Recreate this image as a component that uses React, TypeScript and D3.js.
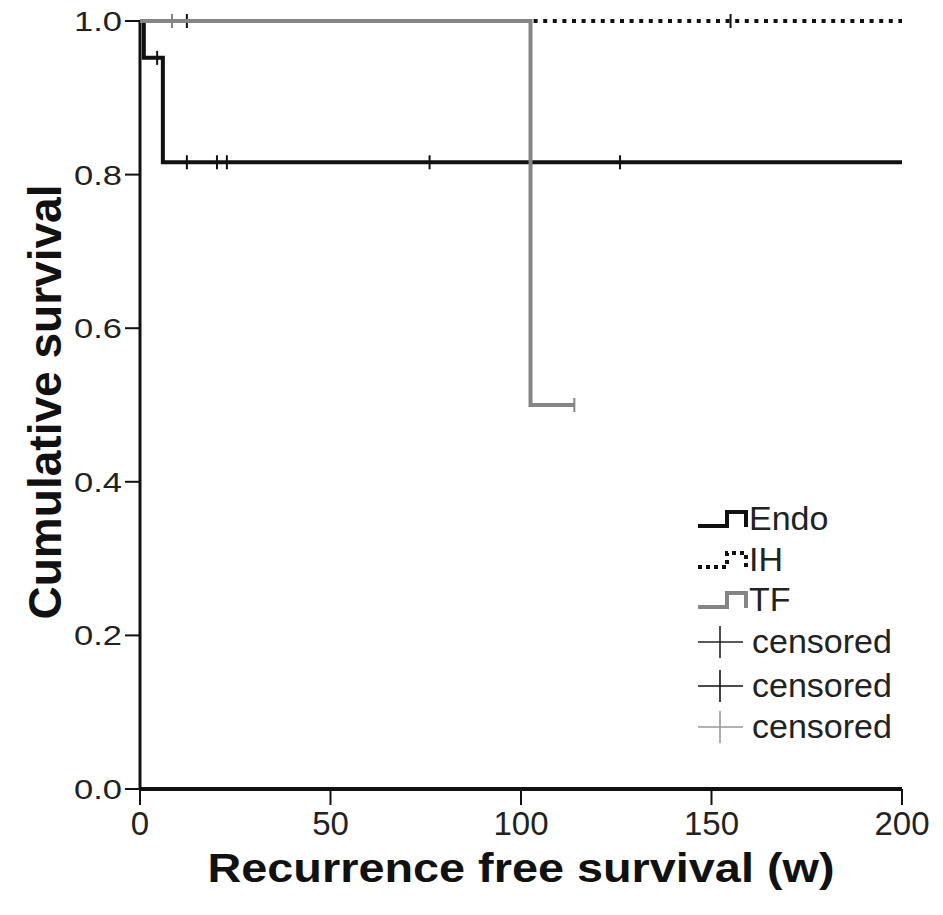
import React from 'react';
import * as d3 from 'd3';

// Kaplan-Meier steps (weeks, survival)
const endoTimes = [0, 1, 6, 200];
const endoSurv = [1, 0.952, 0.816, 0.816];
const endoCensored = [4.5, 12.3, 20.2, 22.8, 76, 126];

const ihTimes = [0, 200];
const ihSurv = [1, 1];
const ihCensored = [12.3, 155];

const tfTimes = [0, 102.5, 114];
const tfSurv = [1, 0.5, 0.5];
const tfCensored = [8.4, 114];

const xTicks = [0, 50, 100, 150, 200];
const yTicks = [0, 0.2, 0.4, 0.6, 0.8, 1.0];

const legendLabels = ['Endo', 'IH', 'TF', 'censored', 'censored', 'censored'];

const W = 943;
const H = 915;

const App = () => {
  const x = d3.scaleLinear().domain([0, 200]).range([140, 902]);
  const y = d3.scaleLinear().domain([0, 1]).range([789, 21]);

  const line = d3
    .line<[number, number]>()
    .x(d => x(d[0]))
    .y(d => y(d[1]))
    .curve(d3.curveStepAfter);

  const pts = (t: number[], s: number[]) => t.map((v, i) => [v, s[i]] as [number, number]);

  // survival level at time t for censor marks
  const levelAt = (t: number[], s: number[], at: number) => {
    let v = s[0];
    for (let i = 0; i < t.length; i++) if (t[i] <= at) v = s[i];
    return v;
  };

  const series = [
    { times: endoTimes, surv: endoSurv, cens: endoCensored, color: '#111', dash: undefined as string | undefined },
    { times: ihTimes, surv: ihSurv, cens: ihCensored, color: '#111', dash: '4 5.6' },
    { times: tfTimes, surv: tfSurv, cens: tfCensored, color: '#858585', dash: undefined as string | undefined },
  ];
  // drawing order: IH, Endo, TF on top
  const drawOrder = [1, 0, 2];

  const censorColors = ['#222', '#111', '#999'];
  const legendBaselines = [530, 571, 611, 653, 697, 738];

  const stepSymbol = (yb: number) =>
    `M698,${yb - 4} H727 V${yb - 18} H746 V${yb - 3}`;

  return (
    <svg width={W} height={H} style={{ position: 'absolute', left: 0, top: 0, background: '#fff' }}
      fontFamily="'Liberation Sans', Arial, sans-serif">
      <rect width={W} height={H} fill="#fff" />

      {/* y axis */}
      <line x1={x(0)} x2={x(0)} y1={y(1)} y2={y(0)} stroke="#111" strokeWidth={3} />
      {yTicks.map(t => (
        <g key={t}>
          <line x1={125} x2={x(0)} y1={y(t)} y2={y(t)} stroke="#111" strokeWidth={2} />
          <text x={122} y={y(t) + 10} textAnchor="end" fontSize={28} fill="#222"
            textLength={48} lengthAdjust="spacingAndGlyphs">{t.toFixed(1)}</text>
        </g>
      ))}

      {/* x axis */}
      <line x1={x(0)} x2={x(200)} y1={y(0)} y2={y(0)} stroke="#111" strokeWidth={4} />
      {xTicks.map(t => (
        <g key={t}>
          <line x1={x(t)} x2={x(t)} y1={y(0)} y2={y(0) + 16} stroke="#111" strokeWidth={2} />
          <text x={x(t)} y={835} textAnchor="middle" fontSize={33} fill="#222">{t}</text>
        </g>
      ))}

      {/* curves */}
      {drawOrder.map(i => {
        const s = series[i];
        return (
          <g key={i}>
            <path d={line(pts(s.times, s.surv)) || ''} fill="none" stroke={s.color}
              strokeWidth={4} strokeDasharray={s.dash} />
            {s.cens.map(c => {
              const lv = levelAt(s.times, s.surv, c);
              return (
                <line key={c} x1={x(c)} x2={x(c)} y1={y(lv) - 7} y2={y(lv) + 7}
                  stroke={s.color} strokeWidth={2} />
              );
            })}
          </g>
        );
      })}

      {/* legend */}
      <path d={stepSymbol(legendBaselines[0])} fill="none" stroke="#111" strokeWidth={4} />
      <path d={stepSymbol(legendBaselines[1])} fill="none" stroke="#111" strokeWidth={4} strokeDasharray="4 4" />
      <path d={stepSymbol(legendBaselines[2])} fill="none" stroke="#858585" strokeWidth={4} />
      {[3, 4, 5].map(i => {
        const cy = legendBaselines[i] - 11;
        return (
          <g key={i}>
            <line x1={698} x2={743} y1={cy} y2={cy} stroke={censorColors[i - 3]} strokeWidth={1.6} />
            <line x1={720} x2={720} y1={cy - 16} y2={cy + 16} stroke={censorColors[i - 3]} strokeWidth={1.6} />
          </g>
        );
      })}
      {legendLabels.map((l, i) => (
        <text key={i} x={i < 3 ? 749 : 752} y={legendBaselines[i]} fontSize={34} fill="#222">{l}</text>
      ))}

      {/* axis titles */}
      <text x={521} y={882} textAnchor="middle" fontSize={41} fontWeight="bold" fill="#111"
        textLength={627} lengthAdjust="spacingAndGlyphs">Recurrence free survival (w)</text>
      <text transform="translate(61,402) rotate(-90)" textAnchor="middle" fontSize={46} fontWeight="bold"
        fill="#111" textLength={435} lengthAdjust="spacingAndGlyphs">Cumulative survival</text>
    </svg>
  );
};

export default App;
